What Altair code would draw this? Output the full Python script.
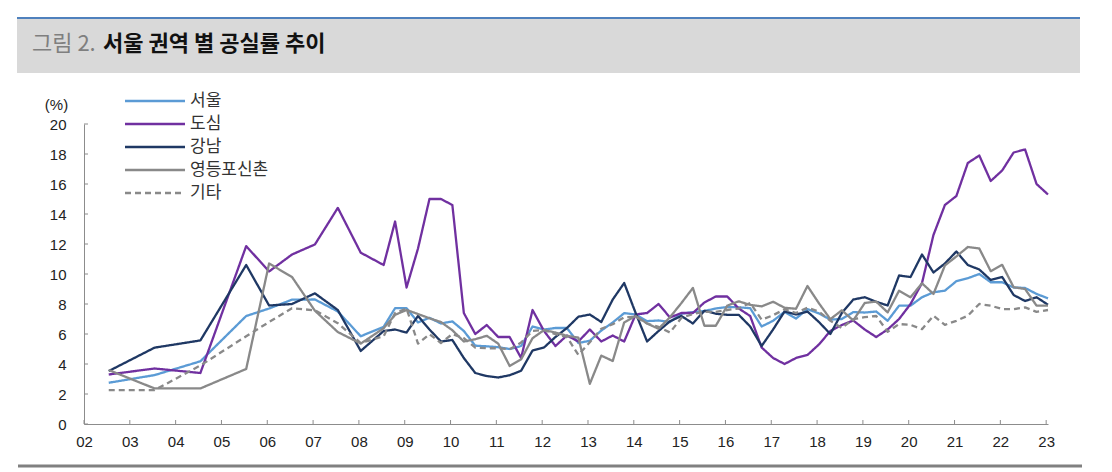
import altair as alt
import pandas as pd

# ---- data ----
PERIODS = [2002.5, 2003.5, 2004.5, 2005.5, 2006.0, 2006.5, 2007.0, 2007.5, 2008.0,
           2008.5, 2008.75, 2009.0, 2009.25, 2009.5, 2009.75, 2010.0, 2010.25, 2010.5, 2010.75,
           2011.0, 2011.25, 2011.5, 2011.75, 2012.0, 2012.25, 2012.5, 2012.75,
           2013.0, 2013.25, 2013.5, 2013.75, 2014.0, 2014.25, 2014.5, 2014.75,
           2015.0, 2015.25, 2015.5, 2015.75, 2016.0, 2016.25, 2016.5, 2016.75,
           2017.0, 2017.25, 2017.5, 2017.75, 2018.0, 2018.25, 2018.5, 2018.75,
           2019.0, 2019.25, 2019.5, 2019.75, 2020.0, 2020.25, 2020.5, 2020.75,
           2021.0, 2021.25, 2021.5, 2021.75, 2022.0, 2022.25, 2022.5, 2022.75, 2023.0]

SERIES = ["서울", "도심", "강남", "영등포신촌", "기타"]

SEOUL = [2.75, 3.26, 4.18, 7.2, 7.7, 8.29, 8.3, 7.5, 5.85,
         6.48, 7.72, 7.72, 6.77, 7.08, 6.7, 6.84, 6.2, 5.22, 5.18, 5.12, 5.0, 5.2, 6.5,
         6.3, 6.4, 6.4, 5.4, 5.55, 6.23, 6.77, 7.39, 7.3, 6.86, 6.9, 6.8, 7.35, 7.46,
         7.53, 7.7, 7.8, 7.78, 7.72, 6.5, 6.88, 7.48, 7.03, 7.66, 7.37, 6.96, 7.0, 7.46,
         7.43, 7.5, 6.88, 7.89, 7.89, 8.45, 8.78, 8.89, 9.52, 9.72, 10.0, 9.45, 9.45,
         9.1, 9.07, 8.67, 8.38]
CBD = [3.3, 3.7, 3.4, 11.86, 10.17, 11.3, 11.97, 14.41, 11.42,
       10.6, 13.5, 9.1, 11.7, 15.0, 15.0, 14.6, 7.4, 6.0, 6.6, 5.8, 5.8, 4.4, 7.6,
       6.2, 5.2, 5.9, 5.5, 6.3, 5.5, 5.9, 5.5, 7.3, 7.4, 8.0, 7.1, 7.4, 7.4, 8.1, 8.5,
       8.5, 7.7, 7.2, 5.1, 4.4, 4.0, 4.4, 4.6, 5.3, 6.2, 6.6, 6.9, 6.3, 5.8, 6.3, 7.0,
       8.0, 9.4, 12.6, 14.6, 15.2, 17.4, 17.9, 16.2, 16.9, 18.1, 18.3, 16.0, 15.3]
GANGNAM = [3.53, 5.09, 5.57, 10.6, 7.9, 8.0, 8.71, 7.6, 4.87,
           6.2, 6.3, 6.1, 7.2, 6.3, 5.5, 5.6, 4.4, 3.4, 3.2, 3.1, 3.25, 3.55, 4.9,
           5.1, 5.8, 6.4, 7.15, 7.3, 6.8, 8.3, 9.4, 7.4, 5.5, 6.2, 6.85, 7.2, 6.7, 7.55,
           7.35, 7.28, 7.28, 6.5, 5.2, 6.3, 7.5, 7.3, 7.5, 6.8, 6.0, 7.4, 8.3, 8.45, 8.15,
           7.9, 9.9, 9.8, 11.3, 10.1, 10.7, 11.5, 10.6, 10.3, 9.6, 9.8, 8.6, 8.2, 8.45, 7.95]
YDP = [3.6, 2.37, 2.37, 3.67, 10.7, 9.8, 7.55, 6.13, 5.36,
       6.38, 7.28, 7.6, 7.33, 7.05, 6.8, 6.25, 5.5, 5.65, 5.88, 5.36, 3.87, 4.31, 5.72,
       6.26, 6.1, 5.88, 5.76, 2.68, 4.56, 4.2, 6.77, 7.2, 6.7, 6.35, 7.12, 8.07, 9.07,
       6.55, 6.55, 7.89, 8.18, 7.94, 7.84, 8.15, 7.75, 7.68, 9.2, 8.05, 6.99, 7.58, 6.9,
       8.07, 8.16, 7.44, 8.89, 8.45, 9.38, 8.67, 10.57, 11.17, 11.8, 11.7, 10.19, 10.61,
       9.12, 9.0, 7.89, 7.89]
OTHER = [2.26, 2.26, 3.9, 5.85, 6.8, 7.72, 7.58, 6.72, 5.4,
         5.85, 7.4, 7.7, 5.36, 5.99, 5.4, 6.0, 5.72, 5.09, 5.05, 5.05, 4.98, 5.43, 6.21,
         6.26, 5.99, 5.8, 4.6, 5.45, 6.35, 6.65, 7.12, 7.15, 6.7, 6.47, 6.1, 7.08, 7.33,
         7.48, 7.48, 7.6, 7.7, 8.07, 6.95, 7.25, 7.65, 7.4, 7.75, 7.5, 6.88, 6.4, 6.99,
         7.12, 7.2, 6.15, 6.66, 6.61, 6.32, 7.22, 6.61, 6.88, 7.22, 8.0, 7.89, 7.66,
         7.66, 7.77, 7.48, 7.6]

VALUES = [SEOUL, CBD, GANGNAM, YDP, OTHER]
X_TICKS = list(range(2002, 2024))
Y_TICKS = list(range(0, 21, 2))

# ---- styling ----
COLORS = ["#5b9bd5", "#7030a0", "#1f3864", "#898989", "#898989"]
DASHES = [[1, 0], [1, 0], [1, 0], [1, 0], [6, 4]]
AXIS_GREY = "#8c8c8c"
NUM_FONT = "Liberation Sans"
KFONT = "Noto Sans CJK KR"
W, H = 964, 300
OFFSET = 0.04  # points sit a little after the period start

x_scale = alt.Scale(domain=[2002, 2023.04], nice=False, zero=False)
y_scale = alt.Scale(domain=[0, 20], nice=False, zero=True)

X_ENC = alt.X("t:Q", scale=x_scale,
              axis=alt.Axis(values=X_TICKS, labelExpr="substring(toString(datum.value), 2)",
                            ticks=False, tickSize=0, grid=False, title=None,
                            domainColor=AXIS_GREY, domainWidth=1,
                            labelFont=NUM_FONT, labelFontSize=15, labelColor="#222222",
                            labelPadding=10, labelFlush=False, labelOverlap=False,
                            labelBound=False))
Y_ENC = alt.Y("v:Q", scale=y_scale,
              axis=alt.Axis(values=Y_TICKS, ticks=False, tickSize=0, grid=False,
                            domainColor=AXIS_GREY, domainWidth=1,
                            labelFont=NUM_FONT, labelFontSize=15, labelColor="#222222",
                            labelPadding=18, labelOverlap=False, labelBound=False,
                            title="(%)", titleAngle=0, titleX=-28, titleY=-20,
                            titleAlign="center", titleBaseline="middle",
                            titleFont=NUM_FONT, titleFontSize=15,
                            titleFontWeight="normal", titleColor="#222222"))

one = pd.DataFrame({"k": [0]})
layers = []

# header band + rules
layers.append(alt.Chart(one).mark_rect(color="#d9d9d9").encode(
    x=alt.value(-67), x2=alt.value(996), y=alt.value(-105), y2=alt.value(-51)))
layers.append(alt.Chart(one).mark_rule(color="#4f81bd", strokeWidth=2).encode(
    x=alt.value(-67), x2=alt.value(996), y=alt.value(-106)))
layers.append(alt.Chart(one).mark_rule(color="#808080", strokeWidth=3).encode(
    x=alt.value(-66), x2=alt.value(998), y=alt.value(342)))
layers.append(alt.Chart(one).mark_text(
    align="left", baseline="middle", font=KFONT, fontSize=22, fontWeight="normal",
    color="#7f7f7f").encode(
    x=alt.value(-52), y=alt.value(-80), text=alt.value("그림 2.")))
layers.append(alt.Chart(one).mark_text(
    align="left", baseline="middle", font=KFONT, fontSize=22, fontWeight="bold",
    color="#111111").encode(
    x=alt.value(19), y=alt.value(-80), text=alt.value("서울 권역 별 공실률 추이")))

# inward tick marks
xt = pd.DataFrame({"t": X_TICKS})
yt = pd.DataFrame({"v": Y_TICKS})
layers.append(alt.Chart(xt).mark_rule(color=AXIS_GREY, strokeWidth=1).encode(
    x=X_ENC, y=alt.value(H), y2=alt.value(H - 4)))
layers.append(alt.Chart(yt).mark_rule(color=AXIS_GREY, strokeWidth=1).encode(
    y=Y_ENC, x=alt.value(0), x2=alt.value(4)))

# series lines
for name, vals, col, dash in zip(SERIES, VALUES, COLORS, DASHES):
    df = pd.DataFrame({"t": [p + OFFSET for p in PERIODS], "v": vals})
    layers.append(alt.Chart(df).mark_line(
        color=col, strokeWidth=2.3, strokeDash=dash, strokeJoin="round").encode(
        x=X_ENC, y=Y_ENC))

# legend
for i, (name, col, dash) in enumerate(zip(SERIES, COLORS, DASHES)):
    yy = -23 + 23 * i
    layers.append(alt.Chart(one).mark_rule(
        color=col, strokeWidth=2.5, strokeDash=dash).encode(
        x=alt.value(41), x2=alt.value(101), y=alt.value(yy)))
    layers.append(alt.Chart(one).mark_text(
        align="left", baseline="middle", font=KFONT, fontSize=17,
        color="#333333").encode(
        x=alt.value(106), y=alt.value(yy), text=alt.value(name)))

chart = alt.layer(*layers).properties(
    width=W, height=H,
    padding={"left": 84, "top": 124, "right": 64, "bottom": 48},
    autosize=alt.AutoSizeParams(type="none"),
    background="white",
).configure_view(stroke=None)

chart.save("out.html", embed_options={"renderer": "svg", "actions": False})
